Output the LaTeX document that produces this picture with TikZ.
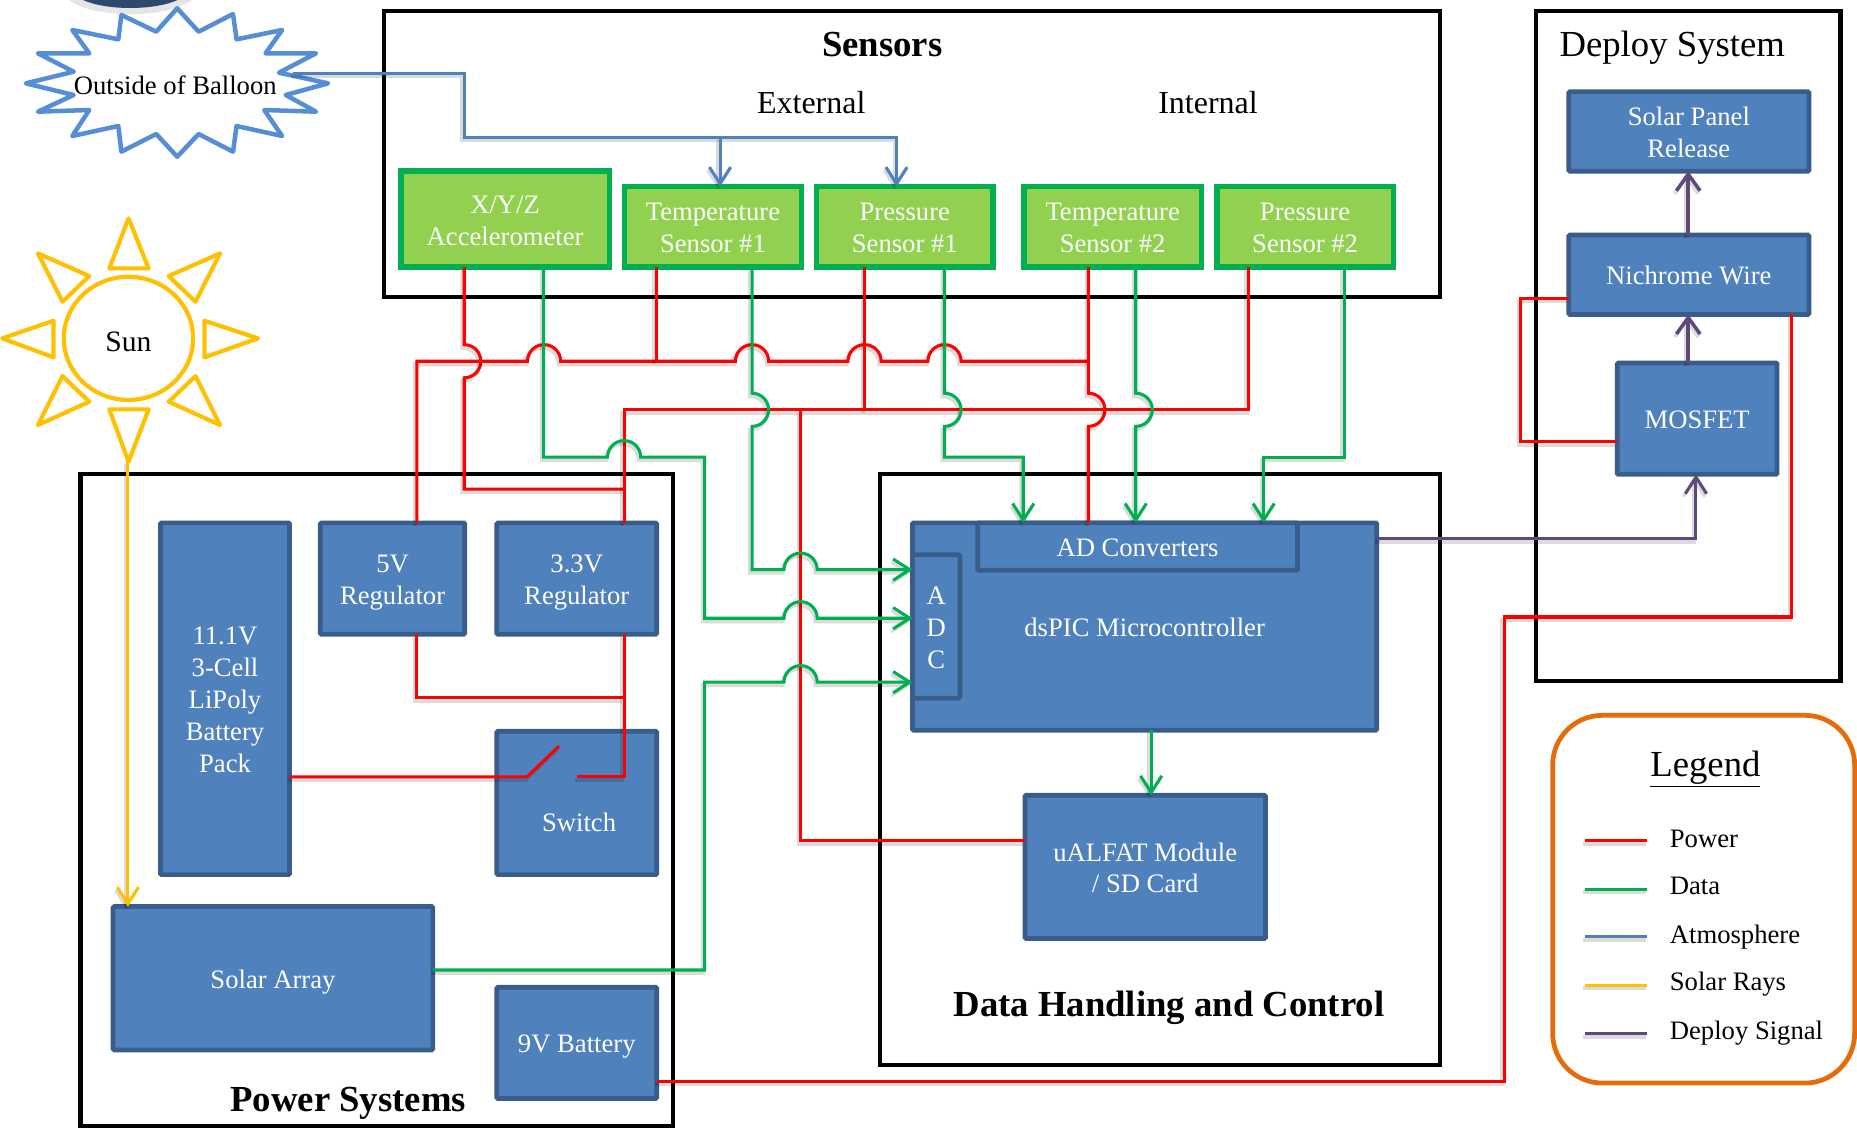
\documentclass[tikz,border=0pt]{standalone}
\usepackage{fontspec}
\setmainfont{Liberation Serif}
\usetikzlibrary{arrows.meta}
\definecolor{blockblue}{HTML}{4F81BD}
\definecolor{blockedge}{HTML}{385D8A}
\definecolor{leaf}{HTML}{92D050}
\definecolor{dgreen}{HTML}{00B050}
\definecolor{sunny}{HTML}{FFC000}
\definecolor{atmo}{HTML}{4F81BD}
\definecolor{starblue}{HTML}{558ED5}
\definecolor{deploy}{HTML}{5F497A}
\definecolor{pure}{HTML}{FF0000}
\definecolor{orng}{HTML}{E46C0A}
\tikzset{
  bodytext/.style={font=\fontsize{22.5}{27}\selectfont},
  bluebox/.style={draw=blockedge,fill=blockblue,line width=4pt,rounded corners=1pt,inner sep=0pt,outer sep=0pt,text=white,align=center,bodytext},
  greenbox/.style={draw=dgreen,fill=leaf,line width=4.5pt,inner sep=0pt,outer sep=0pt,text=white,align=center,bodytext},
  frame/.style={draw=black,line width=3.5pt,inner sep=0pt,outer sep=0pt},
  title/.style={font=\fontsize{31}{36}\selectfont\bfseries},
  plain/.style={inner sep=0pt,outer sep=0pt,bodytext,align=center},
  shade/.style={preaction={draw=black,draw opacity=0.14,line width=3.5pt,transform canvas={shift={(-1.5pt,-2.5pt)}}}},
  wire/.style={line width=#1,line join=miter,shade},
  rd/.style={draw=pure,wire=2.6pt},
  gr/.style={draw=dgreen,wire=2.6pt},
  bl/.style={draw=atmo,wire=2.6pt},
  yl/.style={draw=sunny,wire=2.6pt},
  pu/.style={draw=deploy,wire=2.6pt},
  tip/.style={-{Straight Barb[length=14pt,width=18pt,line width=2.6pt]}},
  hopu/.style={insert path={arc[start angle=180,end angle=0,radius=14pt]}},
  hopr/.style={insert path={arc[start angle=90,end angle=-90,radius=14pt]}},
  ray/.style={draw=sunny,line width=3.5pt,line join=round},
  keyline/.style={line width=2.6pt},
  keytext/.style={inner sep=0pt,outer sep=0pt,anchor=base west,bodytext},
}
\newcommand{\blk}[7][bluebox]{%
  \pgfmathsetmacro\bcx{(#3+#5)/2}\pgfmathsetmacro\bcy{(#4+#6)/2}%
  \pgfmathsetmacro\bw{#5-#3-3}\pgfmathsetmacro\bh{#6-#4-3}%
  \node[#1,minimum width=\bw pt,minimum height=\bh pt] (#2) at (\bcx,\bcy) {\rule{0pt}{22pt}#7\rule[-5pt]{0pt}{5pt}};}
\begin{document}
\begin{tikzpicture}[x=1pt,y=-1pt]
\useasboundingbox (0,0) rectangle (1568,952.5);
\fill[white] (0,0) rectangle (1568,952.5);

% balloon underside
\fill[black!10] (58,0) .. controls (80,16) and (140,16) .. (162,0) -- cycle;
\fill[blockedge!80!black] (70,0) .. controls (90,9) and (130,9) .. (150,0) -- cycle;

% frames
\blk[frame]{sensors}{322.5}{7.5}{1217.5}{252.5}{}
\blk[frame]{deploysys}{1295.5}{7.5}{1555.5}{576.5}{}
\blk[frame]{powersys}{66.5}{398.5}{569.5}{952}{}
\blk[frame]{datasys}{741.5}{398.5}{1217.5}{900.5}{}
\draw[draw=orng,line width=4pt,rounded corners=42pt] (1311,604) rectangle (1566,914.5);
\node[inner sep=0pt] (legendhead) at (1440,649) {\fontsize{31}{36}\selectfont\underline{Legend}};

% titles
\node[title,inner sep=0pt] (tsens) at (745,38) {Sensors};
\node[inner sep=0pt,font=\fontsize{27}{32}\selectfont] (text) at (685,87) {External};
\node[inner sep=0pt,font=\fontsize{27}{32}\selectfont] (tint) at (1020,87) {Internal};
\node[inner sep=0pt,font=\fontsize{31}{36}\selectfont] (tdep) at (1412,40) {Deploy System};
\node[title,inner sep=0pt] (tpow) at (294,932) {Power Systems};
\node[title,inner sep=0pt] (tdat) at (987,851) {Data Handling and Control};

% sensors
\blk[greenbox]{accel}{337}{143}{516}{227}{X/Y/Z\\Accelerometer}
\blk[greenbox]{tempa}{526}{156}{678}{227}{Temperature\\Sensor \#1}
\blk[greenbox]{pressa}{688}{156}{840}{227}{Pressure\\Sensor \#1}
\blk[greenbox]{tempb}{863}{156}{1016}{227}{Temperature\\Sensor \#2}
\blk[greenbox]{pressb}{1026}{156}{1178}{227}{Pressure\\Sensor \#2}

% deploy
\blk{panel}{1323}{76}{1529}{146}{Solar Panel\\Release}
\blk{nichrome}{1323}{197}{1529}{267}{Nichrome Wire}
\blk{mosfet}{1364}{305}{1502}{402}{MOSFET}

% power
\blk{lipo}{134}{440}{246}{740}{11.1V\\3-Cell\\LiPoly\\Battery\\Pack}
\blk{regfive}{269}{440}{394}{537}{5V\\Regulator}
\blk{regthree}{418}{440}{556}{537}{3.3V\\Regulator}
\blk{switchbox}{418}{616}{556}{740}{}
\node[plain,text=white] (switchlabel) at (489,694) {Switch};
\blk{solar}{94}{764}{367}{888}{Solar Array}
\blk{nine}{418}{832}{556}{929}{9V Battery}

% data handling
\blk{dspic}{769}{440}{1164}{618}{dsPIC Microcontroller}
\blk{adconv}{824}{440}{1097}{483}{AD Converters}
\blk{adc}{769}{467}{812}{591}{A\\D\\C}
\blk{ualfat}{864}{670}{1070}{794}{uALFAT Module\\/ SD Card}

% star
\begin{scope}[x=0.3769pt,y=-0.2815pt]
\draw[draw=starblue,line width=3.8pt,fill=white,line join=round]
 (397,25)--(445,95)--(522,42)--(530,118)--(632,90)--(595,160)--(708,160)--(625,218)--(735,250)--(640,285)--(708,335)--(592,330)--(632,408)--(530,378)--(522,455)--(445,402)--(397,470)--(350,402)--(272,455)--(265,378)--(162,408)--(200,330)--(85,335)--(165,285)--(58,250)--(165,215)--(85,160)--(200,160)--(162,90)--(265,118)--(272,45)--(350,95)--cycle;
% sun rays
\draw[ray] (288,655)--(333,805)--(245,805)--cycle;
\draw[ray] (288,1385)--(333,1228)--(245,1228)--cycle;
\draw[ray] (5,1015)--(120,962)--(120,1072)--cycle;
\draw[ray] (578,1015)--(458,962)--(458,1072)--cycle;
\draw[ray] (85,760)--(200,828)--(140,905)--cycle;
\draw[ray] (493,760)--(378,828)--(438,905)--cycle;
\draw[ray] (85,1275)--(200,1205)--(140,1128)--cycle;
\draw[ray] (493,1275)--(378,1205)--(438,1128)--cycle;
\end{scope}
\node[plain] (balloon) at (148,72) {Outside of Balloon};
\draw[draw=sunny,line width=3.5pt] (108.5,285.7) ellipse [x radius=54.6pt,y radius=52pt];
\node[inner sep=0pt,font=\fontsize{25}{30}\selectfont] (sun) at (108.5,289) {Sun};
\coordinate (suntip) at (108,389);
\coordinate (starpoint) at (247,62);
\coordinate (switchcontact) at (487,656);

% atmosphere
\coordinate (atmosplit) at (608,116);
\draw[bl,tip] (starpoint) -- (392,62) -- (392,116) -- (757,116) -- (pressa.north -| 757,0);
\draw[bl,tip] (atmosplit) -- (tempa.north -| 608,0);

% solar rays
\draw[yl,tip] (suntip) -- (solar.north -| 108,0);

% power wires
\draw[rd] (accel.south -| 392,0) -- (392,291) [hopr] -- (392,413) -- (527,413);
\draw[rd] (regfive.north -| 352,0) -- (352,305) -- (445.4,305) [hopu] -- (621,305) [hopu] -- (716,305) [hopu] -- (783.5,305) [hopu] -- (919,305);
\draw[rd] (tempa.south -| 554,0) -- (554,305);
\draw[rd] (pressa.south -| 730,0) -- (730,346);
\draw[rd] (tempb.south -| 919,0) -- (919,332) [hopr] -- (dspic.north -| 919,0);
\draw[rd] (pressb.south -| 1054,0) -- (1054,346) -- (527,346) -- (regthree.north -| 527,0);
\draw[rd] (676,346) -- (676,710) -- (ualfat.west |- 0,710);
\draw[rd] (regthree.south -| 527,0) -- (527,656) -- (switchcontact);
\draw[rd] (regfive.south -| 352,0) -- (352,589) -- (527,589);
\draw[rd] (lipo.east |- 0,656) -- (445,656) -- (472,630);
\draw[rd] (nine.east |- 0,913) -- (1270,913) -- (1270,521) -- (1513,521) -- (nichrome.south -| 1513,0);
\draw[rd] (nichrome.west |- 0,252) -- (1284,252) -- (1284,373) -- (mosfet.west |- 0,373);

% data wires
\draw[gr,tip] (accel.south -| 459,0) -- (459,386) -- (513,386) [hopu] -- (595,386) -- (595,522) -- (662,522) [hopu] -- (dspic.west |- 0,522);
\draw[gr,tip] (tempa.south -| 635,0) -- (635,332) [hopr] -- (635,481) -- (662,481) [hopu] -- (dspic.west |- 0,481);
\draw[gr,tip] (pressa.south -| 797.5,0) -- (797.5,332) [hopr] -- (797.5,386) -- (864,386) -- (dspic.north -| 864,0);
\draw[gr,tip] (tempb.south -| 959,0) -- (959,332) [hopr] -- (dspic.north -| 959,0);
\draw[gr,tip] (pressb.south -| 1135,0) -- (1135,386) -- (1067,386) -- (dspic.north -| 1067,0);
\draw[gr,tip] (solar.east |- 0,819) -- (595,819) -- (595,576) -- (662,576) [hopu] -- (dspic.west |- 0,576);
\draw[gr,tip] (dspic.south -| 972,0) -- (ualfat.north -| 972,0);

% deploy signal
\draw[pu,tip] (dspic.east |- 0,455) -- (1432,455) -- (mosfet.south -| 1432,0);
\draw[pu,line width=3.4pt,-{Straight Barb[length=14pt,width=20pt,line width=3pt]}] (mosfet.north -| 1425.5,0) -- (nichrome.south -| 1425.5,0);
\draw[pu,line width=3.4pt,-{Straight Barb[length=14pt,width=20pt,line width=3pt]}] (nichrome.north -| 1425.5,0) -- (panel.south -| 1425.5,0);

% legend
\foreach \kname/\kcol/\ky/\ty/\ktext in {kpow/pure/710/715.5/Power,kdat/dgreen/751/755.5/Data,katm/atmo/791/796.5/Atmosphere,ksol/sunny/832/836.5/Solar Rays,kdep/deploy/873/877.5/Deploy Signal}{
  \node[keytext] (\kname) at (1410,\ty) {\ktext};
  \coordinate (\kname a) at (1338,\ky);
  \coordinate (\kname b) at (1391,\ky);
  \draw[draw=\kcol,keyline,shade] (\kname a) -- (\kname b);
}
\end{tikzpicture}
\end{document}
